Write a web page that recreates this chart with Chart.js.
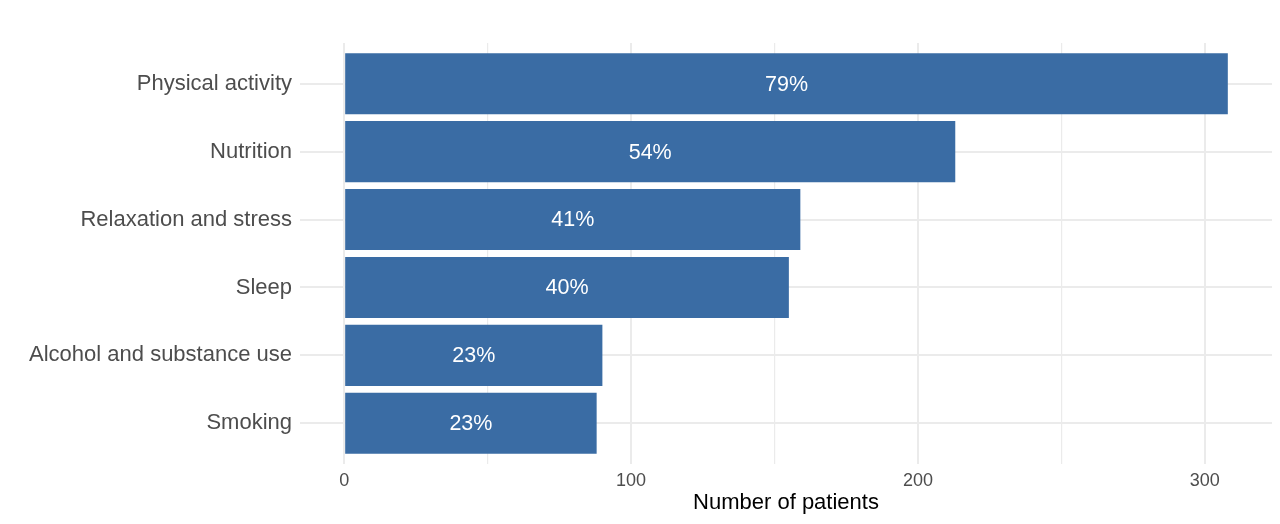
<!DOCTYPE html>
<html>
<head>
<meta charset="utf-8">
<script src="https://cdn.jsdelivr.net/npm/chart.js@4"></script>
<style>
  html, body { margin: 0; padding: 0; background: #fff; }
  #wrap { width: 1280px; height: 524px; }
</style>
</head>
<body>
<div id="wrap"><canvas id="chart"></canvas></div>
<script>
// ---------------- DATA ----------------

const categories = ['Physical activity', 'Nutrition', 'Relaxation and stress', 'Sleep', 'Alcohol and substance use', 'Smoking'];
const patients = [308, 213, 159, 155, 90, 88];
const percents = [79, 54, 41, 40, 23, 23];
const xTicks = [0, 50, 100, 150, 200, 250, 300];

const FONT = '"Liberation Sans", Arial, Helvetica, sans-serif';
const BAR = '#3a6ca4';

// ggplot-like 5% expansion of the value axis
const maxVal = Math.max(...patients);
const expand = maxVal * 0.05;

// -------- BAR LABELS --------

const pctLabels = {
  id: 'pctLabels',
  afterDatasetsDraw(chart) {
    const ctx = chart.ctx;
    const meta = chart.getDatasetMeta(0);
    ctx.save();
    ctx.fillStyle = '#ffffff';
    ctx.font = '21.5px ' + FONT;
    ctx.textAlign = 'center';
    ctx.textBaseline = 'middle';
    meta.data.forEach((bar, i) => {
      const cx = (bar.x + bar.base) / 2;
      ctx.fillText(percents[i] + '%', cx, bar.y + 1);
    });
    ctx.restore();
  }
};

new Chart(document.getElementById('chart'), {
  type: 'bar',
  data: {
    datasets: [{
      data: patients.map((v, i) => ({ x: v, y: i + 1 })),
      backgroundColor: BAR,
      borderWidth: 0,
      categoryPercentage: 1,
      barPercentage: 0.9
    }]
  },
  options: {
    indexAxis: 'y',
    responsive: true,
    maintainAspectRatio: false,
    animation: false,
    layout: { padding: { top: 43, right: 8, left: 0, bottom: 0 } },
    plugins: {
      legend: { display: false },
      tooltip: { enabled: false }
    },
    scales: {
      x: {
        type: 'linear',
        min: -expand,
        max: maxVal + expand,
        border: { display: false },
        afterBuildTicks: s => { s.ticks = xTicks.map(v => ({ value: v })); },
        afterFit: s => { s.height = 60; },
        grid: {
          drawTicks: false,
          color: '#ebebeb',
          lineWidth: c => (c.tick && c.tick.value % 100 === 0) ? 2 : 1.2
        },
        ticks: {
          padding: 6,
          color: '#4d4d4d',
          font: { family: FONT, size: 18 },
          maxRotation: 0,
          autoSkip: false,
          callback: v => (v % 100 === 0 ? v : '')
        },
        title: {
          display: true,
          text: 'Number of patients',
          color: '#000000',
          font: { family: FONT, size: 22 },
          padding: { top: 0, bottom: 8 }
        }
      },
      y: {
        type: 'linear',
        min: 0.4,
        max: categories.length + 0.6,
        reverse: true,
        offset: false,
        border: { display: false },
        afterBuildTicks: s => { s.ticks = categories.map((c, i) => ({ value: i + 1 })); },
        afterFit: s => { s.width = 300; },
        grid: { drawTicks: false, offset: false, color: '#ebebeb', lineWidth: 2 },
        ticks: {
          padding: 8,
          color: '#4d4d4d',
          font: { family: FONT, size: 22 },
          autoSkip: false,
          callback: v => categories[Math.round(v) - 1] || ''
        }
      }
    }
  },
  plugins: [pctLabels]
});
</script>
</body>
</html>
